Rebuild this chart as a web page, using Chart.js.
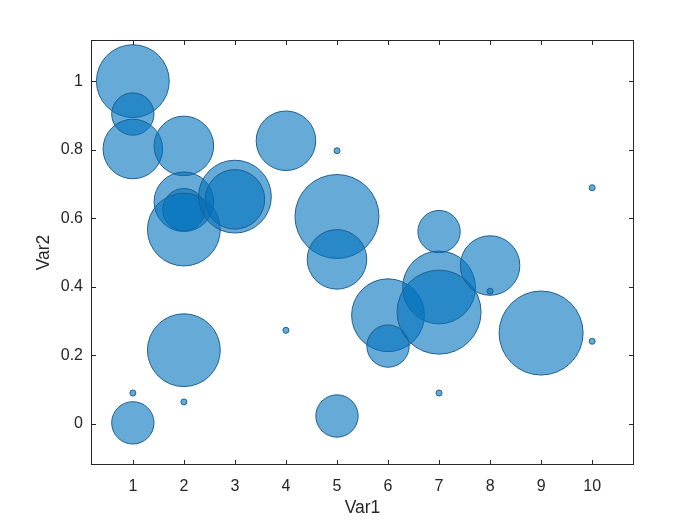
<!DOCTYPE html>
<html>
<head>
<meta charset="utf-8">
<script src="https://cdn.jsdelivr.net/npm/chart.js@4/dist/chart.umd.min.js"></script>
<style>
  html, body { margin: 0; padding: 0; background: #fff; }
  #wrap { width: 700px; height: 525px; }
</style>
</head>
<body>
<div id="wrap"><canvas id="chart" width="700" height="525"></canvas></div>
<script>
// bubble data
const xValues = [1, 1, 1, 2, 2, 2, 2, 3, 3, 4, 5, 5, 5, 6, 6, 7, 7, 7, 8, 8, 9, 10, 10, 7, 4, 2, 2, 1, 1, 5];
const yValues = [1.0, 0.904, 0.802, 0.811, 0.648, 0.625, 0.567, 0.663, 0.655, 0.826, 0.797, 0.605, 0.48,
                 0.317, 0.227, 0.561, 0.398, 0.326, 0.462, 0.387, 0.265, 0.689, 0.241, 0.09, 0.273,
                 0.215, 0.064, 0.09, 0.003, 0.023];
const sizes   = [3, 1, 2, 2, 2, 1, 3, 3, 2, 2, 0, 4, 2, 3, 1, 1, 3, 4, 2, 0, 4, 0, 0, 0, 0, 3, 0, 0, 1, 1];
const xTicks = [1, 2, 3, 4, 5, 6, 7, 8, 9, 10];
const xTickLabels = ['1', '2', '3', '4', '5', '6', '7', '8', '9', '10'];
const yTicks = [0, 0.2, 0.4, 0.6, 0.8, 1];
const yTickLabels = ['0', '0.2', '0.4', '0.6', '0.8', '1'];

const rMin = 3, rMax = 42, sizeMax = 4;
const radiusFor = (s) => Math.sqrt(rMin * rMin + (rMax * rMax - rMin * rMin) * s / sizeMax);

const axisColor = '#262626';
const font = "'Liberation Sans', Arial, sans-serif";

const matlabBox = {
  id: 'matlabBox',
  afterDatasetsDraw(chart) {
    const { ctx, chartArea: a, scales } = chart;
    ctx.save();
    ctx.strokeStyle = axisColor;
    ctx.lineWidth = 1;
    ctx.strokeRect(a.left + 0.5, a.top + 0.5, a.right - a.left - 1, a.bottom - a.top - 1);
    const len = 5;
    ctx.beginPath();
    xTicks.forEach(v => {
      const px = Math.round(scales.x.getPixelForValue(v)) + 0.5;
      ctx.moveTo(px, a.bottom); ctx.lineTo(px, a.bottom - len);
      ctx.moveTo(px, a.top); ctx.lineTo(px, a.top + len);
    });
    yTicks.forEach(v => {
      const py = Math.round(scales.y.getPixelForValue(v)) + 0.5;
      ctx.moveTo(a.left, py); ctx.lineTo(a.left + len, py);
      ctx.moveTo(a.right, py); ctx.lineTo(a.right - len, py);
    });
    ctx.stroke();
    ctx.restore();
  }
};

new Chart(document.getElementById('chart'), {
  type: 'bubble',
  data: {
    datasets: [{
      data: xValues.map((x, i) => ({ x: x, y: yValues[i], r: radiusFor(sizes[i]) })),
      backgroundColor: 'rgba(0, 114, 189, 0.6)',
      borderColor: 'rgb(30, 95, 145)',
      borderWidth: 1,
      hoverBorderWidth: 1
    }]
  },
  options: {
    responsive: false,
    animation: false,
    layout: { autoPadding: false, padding: { top: 40, right: 66, left: 0, bottom: 0 } },
    plugins: { legend: { display: false }, tooltip: { enabled: false } },
    scales: {
      x: {
        type: 'linear',
        min: 0.18,
        max: 10.82,
        afterBuildTicks: (scale) => { scale.ticks = xTicks.map(v => ({ value: v })); },
        afterFit: (scale) => { scale.height = 60; },
        grid: { display: false, drawTicks: false },
        border: { display: false },
        ticks: {
          padding: 12,
          color: axisColor,
          font: { family: font, size: 16 },
          callback: (v) => xTickLabels[xTicks.indexOf(v)]
        },
        title: {
          display: true,
          text: 'Var1',
          color: axisColor,
          font: { family: font, size: 17.5 },
          padding: { top: 0, bottom: 6 }
        }
      },
      y: {
        type: 'linear',
        min: -0.12,
        max: 1.12,
        afterBuildTicks: (scale) => { scale.ticks = yTicks.map(v => ({ value: v })); },
        afterFit: (scale) => { scale.width = 91; },
        grid: { display: false, drawTicks: false },
        border: { display: false },
        ticks: {
          padding: 8,
          color: axisColor,
          font: { family: font, size: 16 },
          callback: (v) => yTickLabels[yTicks.indexOf(v)]
        },
        title: {
          display: true,
          text: 'Var2',
          color: axisColor,
          font: { family: font, size: 17.5 },
          padding: { top: 34, bottom: 0 }
        }
      }
    }
  },
  plugins: [matlabBox]
});
</script>
</body>
</html>
